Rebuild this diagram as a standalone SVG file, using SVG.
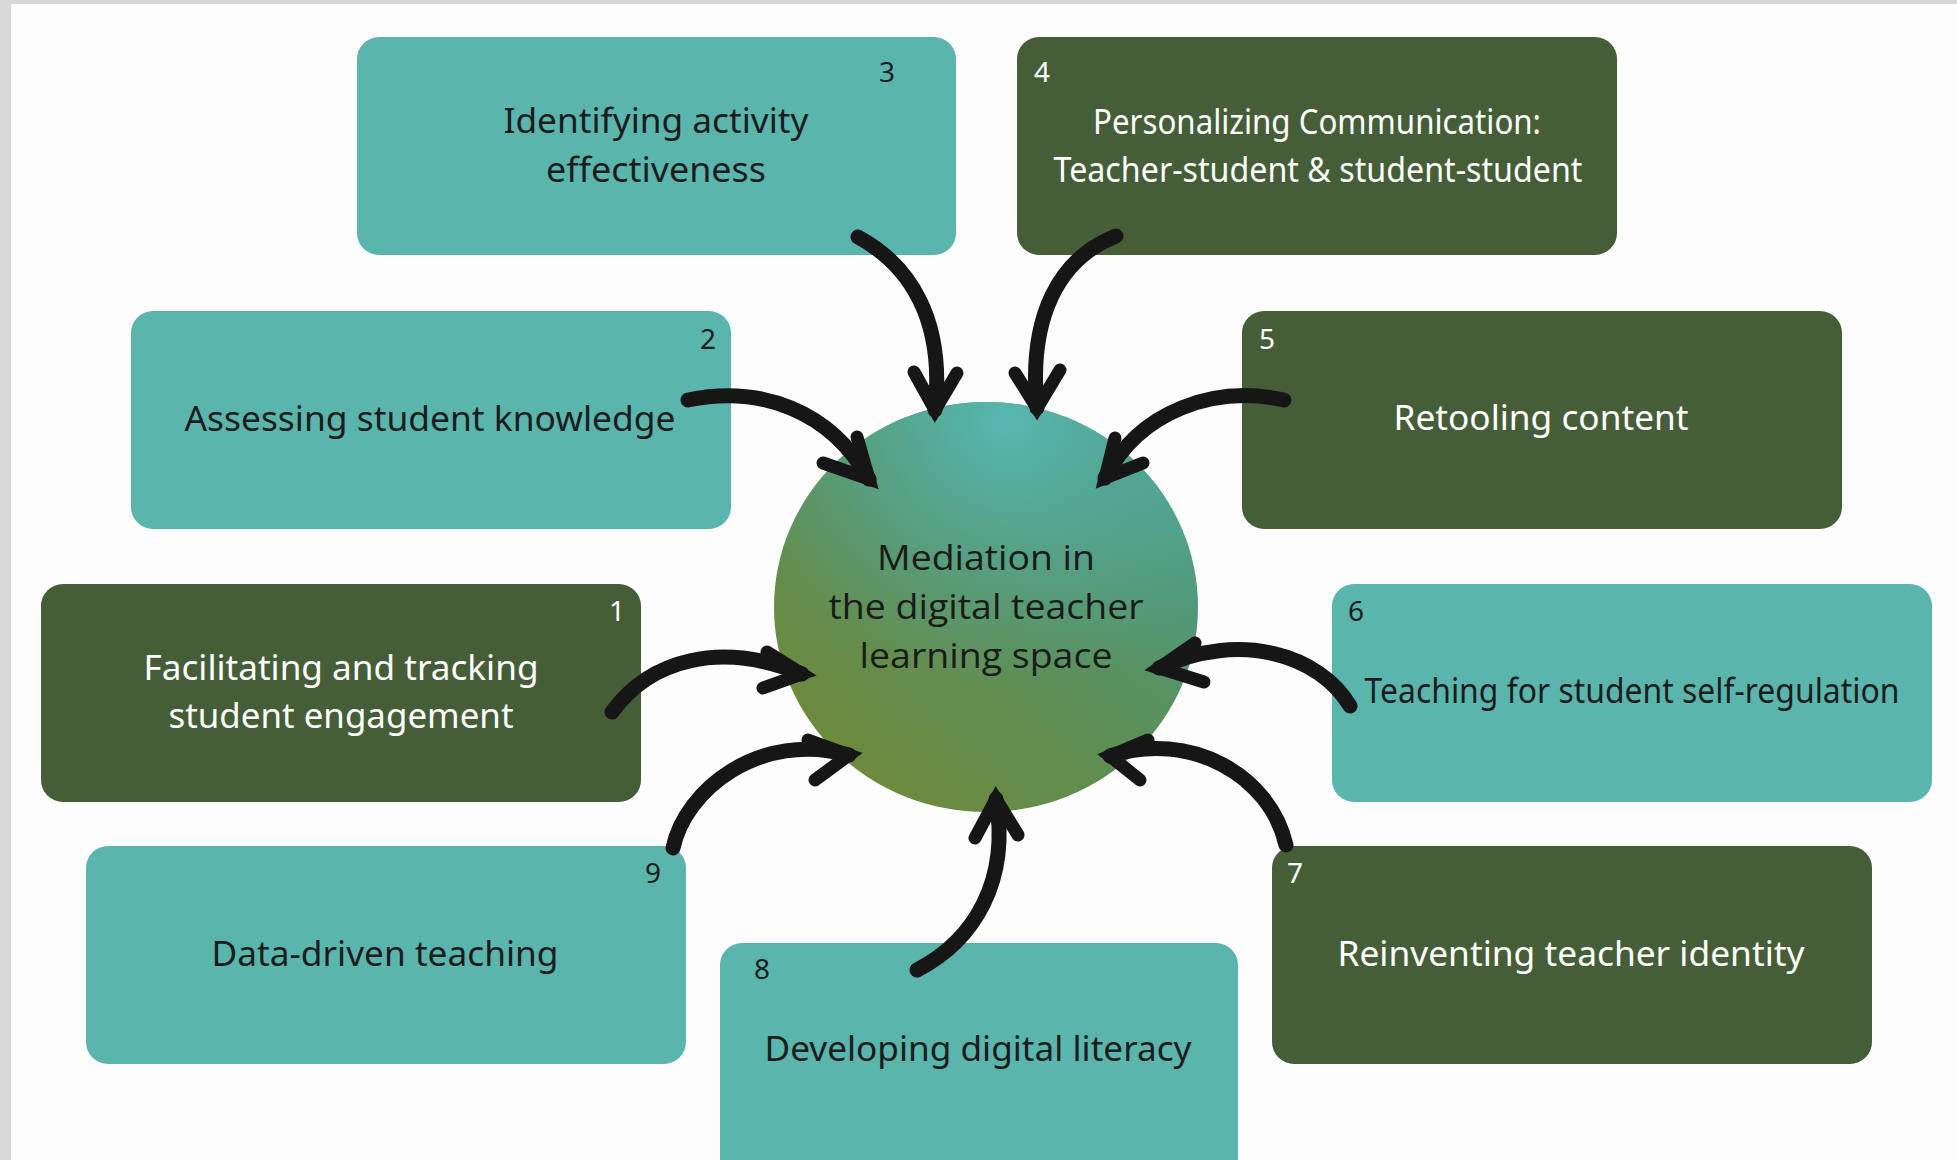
<svg xmlns="http://www.w3.org/2000/svg" width="1957" height="1160" viewBox="0 0 1957 1160">
<defs>
<style>
.teal{fill:#5ab5ad}
.dark{fill:#455e38}
.lbl{font-family:"Noto Sans","Open Sans","Liberation Sans",sans-serif;font-size:35px;text-anchor:middle}
.num{font-family:"Noto Sans","Open Sans","Liberation Sans",sans-serif;font-size:28px;text-anchor:middle}
.onTeal{fill:#1c1c1c}
.onDark{fill:#ffffff}
.ctr{font-family:"Open Sans","Noto Sans","Liberation Sans",sans-serif;font-size:35px;text-anchor:middle;fill:#1a1a1a}
.shaft{fill:none;stroke:#161616;stroke-width:15;stroke-linecap:round}
.head{fill:none;stroke:#161616;stroke-width:13;stroke-linecap:round;stroke-linejoin:miter;stroke-miterlimit:10}
</style>
<linearGradient id="gLin" x1="0.85" y1="0.1" x2="0.15" y2="0.9">
<stop offset="0" stop-color="#4c9f8c"/>
<stop offset="0.5" stop-color="#5b8f58"/>
<stop offset="1" stop-color="#6f8a3c"/>
</linearGradient>
<radialGradient id="gRad" cx="0.55" cy="0.05" r="0.65">
<stop offset="0" stop-color="#57b8b1" stop-opacity="1"/>
<stop offset="0.45" stop-color="#55ad9f" stop-opacity="0.6"/>
<stop offset="1" stop-color="#55ad9f" stop-opacity="0"/>
</radialGradient>
</defs>
<rect x="0" y="0" width="1957" height="1160" fill="#fdfdfd"/>
<rect x="0" y="0" width="1957" height="4" fill="#d8d8d8"/>
<rect x="0" y="0" width="11" height="1160" fill="#d8d8d8"/>

<g id="node-3">
<rect class="teal" x="357" y="37" width="599" height="218" rx="22"/>
<text class="num onTeal" x="887" y="82">3</text>
<text class="lbl onTeal" x="656" y="133" textLength="305" lengthAdjust="spacingAndGlyphs">Identifying activity</text>
<text class="lbl onTeal" x="656" y="182" textLength="220" lengthAdjust="spacingAndGlyphs">effectiveness</text>
</g>
<g id="node-4">
<rect class="dark" x="1017" y="37" width="600" height="218" rx="22"/>
<text class="num onDark" x="1042" y="82">4</text>
<text class="lbl onDark" x="1317" y="134" textLength="448" lengthAdjust="spacingAndGlyphs">Personalizing Communication:</text>
<text class="lbl onDark" x="1318" y="182" textLength="529" lengthAdjust="spacingAndGlyphs">Teacher-student &amp; student-student</text>
</g>
<g id="node-2">
<rect class="teal" x="131" y="311" width="600" height="218" rx="22"/>
<text class="num onTeal" x="708" y="349">2</text>
<text class="lbl onTeal" x="430" y="431" textLength="491" lengthAdjust="spacingAndGlyphs">Assessing student knowledge</text>
</g>
<g id="node-5">
<rect class="dark" x="1242" y="311" width="600" height="218" rx="22"/>
<text class="num onDark" x="1267" y="349">5</text>
<text class="lbl onDark" x="1541" y="430" textLength="295" lengthAdjust="spacingAndGlyphs">Retooling content</text>
</g>
<g id="node-1">
<rect class="dark" x="41" y="584" width="600" height="218" rx="22"/>
<text class="num onDark" x="617" y="621">1</text>
<text class="lbl onDark" x="341" y="680" textLength="395" lengthAdjust="spacingAndGlyphs">Facilitating and tracking</text>
<text class="lbl onDark" x="341" y="728" textLength="345" lengthAdjust="spacingAndGlyphs">student engagement</text>
</g>
<g id="node-6">
<rect class="teal" x="1332" y="584" width="600" height="218" rx="22"/>
<text class="num onTeal" x="1356" y="621">6</text>
<text class="lbl onTeal" x="1632" y="703" textLength="535" lengthAdjust="spacingAndGlyphs">Teaching for student self-regulation</text>
</g>
<g id="node-9">
<rect class="teal" x="86" y="846" width="600" height="218" rx="22"/>
<text class="num onTeal" x="653" y="883">9</text>
<text class="lbl onTeal" x="385" y="966" textLength="347" lengthAdjust="spacingAndGlyphs">Data-driven teaching</text>
</g>
<g id="node-7">
<rect class="dark" x="1272" y="846" width="600" height="218" rx="22"/>
<text class="num onDark" x="1295" y="883">7</text>
<text class="lbl onDark" x="1571" y="966" textLength="467" lengthAdjust="spacingAndGlyphs">Reinventing teacher identity</text>
</g>
<g id="node-8">
<rect class="teal" x="720" y="943" width="518" height="240" rx="22"/>
<text class="num onTeal" x="762" y="979">8</text>
<text class="lbl onTeal" x="978" y="1061" textLength="427" lengthAdjust="spacingAndGlyphs">Developing digital literacy</text>
</g>

<g id="center">
<ellipse cx="986" cy="607" rx="212" ry="205" fill="url(#gLin)"/>
<ellipse cx="986" cy="607" rx="212" ry="205" fill="url(#gRad)"/>
<text class="ctr" x="986" y="570" textLength="218" lengthAdjust="spacingAndGlyphs">Mediation in</text>
<text class="ctr" x="986" y="619" textLength="315" lengthAdjust="spacingAndGlyphs">the digital teacher</text>
<text class="ctr" x="986" y="668" textLength="253" lengthAdjust="spacingAndGlyphs">learning space</text>
</g>

<g id="connectors">
<path class="shaft" d="M858 237 C910 265 945 320 935 410"/>
<polyline class="head" points="914,372 935,410 957,373"/>
<path class="shaft" d="M1116 236 C1060 258 1028 315 1037 408"/>
<polyline class="head" points="1015,373 1037,408 1060,370"/>
<path class="shaft" d="M688 400 C760 385 830 410 869 479"/>
<polyline class="head" points="823,463 869,479 857,437"/>
<path class="shaft" d="M1284 400 C1215 385 1140 410 1105 478"/>
<polyline class="head" points="1115,438 1105,478 1143,463"/>
<path class="shaft" d="M612 712 C650 660 720 640 802 674"/>
<polyline class="head" points="767,652 802,674 763,688"/>
<path class="shaft" d="M673 848 C685 790 760 730 849 755"/>
<polyline class="head" points="808,740 849,755 815,780"/>
<path class="shaft" d="M1350 706 C1320 655 1240 630 1159 668"/>
<polyline class="head" points="1195,643 1159,668 1204,682"/>
<path class="shaft" d="M1286 845 C1270 775 1190 730 1110 756"/>
<polyline class="head" points="1148,740 1110,756 1140,780"/>
<path class="shaft" d="M917 970 C975 940 1010 880 996 799"/>
<polyline class="head" points="975,838 996,799 1018,835"/>
</g>
</svg>
